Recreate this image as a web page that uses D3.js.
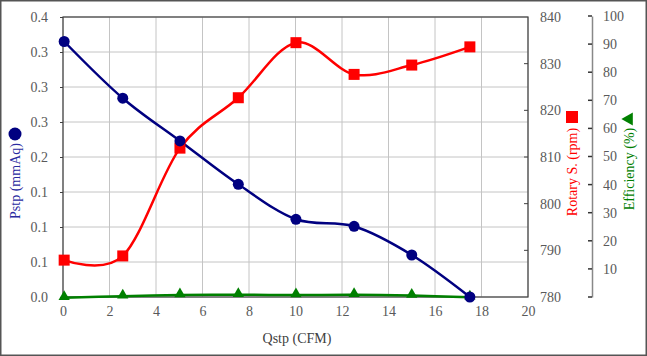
<!DOCTYPE html>
<html><head><meta charset="utf-8">
<script src="https://cdn.jsdelivr.net/npm/d3@7"></script>
<style>body{margin:0;background:#fff}svg{display:block}text{font-family:"Liberation Serif","Times New Roman",serif}</style>
</head><body><svg id="c" width="647" height="356"></svg>
<script>
const qstp = [0.05, 2.57, 5.03, 7.54, 10.02, 12.52, 15.0, 17.5];
const pstp = [0.365, 0.284, 0.223, 0.161, 0.111, 0.101, 0.060, 0.0];
const rotary = [787.9, 788.8, 811.9, 822.7, 834.5, 827.7, 829.7, 833.6];
const efficiency = [-0.3, 0.3, 0.7, 0.8, 0.7, 0.8, 0.5, -0.1];
const xTicks = [0, 2, 4, 6, 8, 10, 12, 14, 16, 18, 20];
const pTicks = [0, 0.05, 0.1, 0.15, 0.2, 0.25, 0.3, 0.35, 0.4];
const rTicks = [780, 790, 800, 810, 820, 830, 840];
const eTicks = [0, 10, 20, 30, 40, 50, 60, 70, 80, 90, 100];

const svg = d3.select("#c");
const L = 63, R = 528, T = 17, B = 297;
const x = d3.scaleLinear().domain([0, 20]).range([L, R]);
const yP = d3.scaleLinear().domain([0, 0.4]).range([B, T]);
const yR = d3.scaleLinear().domain([780, 840]).range([B, T]);
const yE = d3.scaleLinear().domain([0, 100]).range([B, 16]);
const tickCol = "#595959";

svg.append("rect").attr("x", 0.75).attr("y", 0.75).attr("width", 645.5).attr("height", 354.5)
  .attr("fill", "#fff").attr("stroke", "#555").attr("stroke-width", 1.5);

// gridlines
const g = svg.append("g");
g.selectAll(".vx").data(xTicks).join("line")
  .attr("x1", d => x(d)).attr("x2", d => x(d)).attr("y1", T).attr("y2", B)
  .attr("stroke", "#c4c4c4").attr("stroke-width", 1);
g.selectAll(".hy").data(pTicks).join("line")
  .attr("x1", L).attr("x2", R).attr("y1", d => yP(d)).attr("y2", d => yP(d))
  .attr("stroke", "#c4c4c4").attr("stroke-width", 1);

// frame
svg.append("rect").attr("x", L).attr("y", T).attr("width", R - L).attr("height", B - T)
  .attr("fill", "none").attr("stroke", "#404040").attr("stroke-width", 1.2);

// left axis
const axL = svg.append("g").attr("transform", `translate(${L},0)`)
  .call(d3.axisLeft(yP).tickValues(pTicks).tickFormat(d3.format(".1f")).tickSize(3).tickPadding(12));
axL.select(".domain").remove();
axL.selectAll("line").attr("stroke", "#404040");
axL.selectAll("text").attr("font-size", 14).attr("fill", tickCol).attr("font-family", "Liberation Serif");

// bottom axis
const axB = svg.append("g").attr("transform", `translate(0,${B})`)
  .call(d3.axisBottom(x).tickValues(xTicks).tickFormat(d3.format("d")).tickSize(0).tickPadding(9));
axB.select(".domain").remove();
axB.selectAll("text").attr("font-size", 14).attr("fill", tickCol).attr("font-family", "Liberation Serif");

// rotary axis
const axR = svg.append("g").attr("transform", `translate(${R},0)`)
  .call(d3.axisRight(yR).tickValues(rTicks).tickSize(0).tickPadding(12));
axR.select(".domain").remove();
axR.selectAll("text").attr("font-size", 14).attr("fill", tickCol).attr("font-family", "Liberation Serif");
svg.append("g").selectAll("line").data(rTicks.slice(1, -1)).join("line")
  .attr("x1", R - 4).attr("x2", R).attr("y1", d => yR(d)).attr("y2", d => yR(d))
  .attr("stroke", "#404040");

// efficiency axis
const EX = 592;
const axE = svg.append("g").attr("transform", `translate(${EX},0)`)
  .call(d3.axisRight(yE).tickValues(eTicks).tickFormat(d => d === 0 ? "" : d).tickSize(0).tickPadding(11));
axE.select(".domain").attr("stroke", "#888").attr("stroke-width", 1.5);
axE.selectAll("text").attr("font-size", 14).attr("fill", tickCol).attr("font-family", "Liberation Serif");
svg.append("g").selectAll("line").data(eTicks).join("line")
  .attr("x1", EX - 4).attr("x2", EX).attr("y1", d => yE(d)).attr("y2", d => yE(d))
  .attr("stroke", "#333").attr("stroke-width", 1.5);

const curve = d3.curveCardinal.tension(0);
// efficiency series
svg.append("path").datum(qstp.map((q, i) => [q, efficiency[i]]))
  .attr("d", d3.line().x(d => x(d[0])).y(d => yE(d[1])).curve(curve))
  .attr("fill", "none").attr("stroke", "#008000").attr("stroke-width", 2.5);
// rotary series
svg.append("path").datum(qstp.map((q, i) => [q, rotary[i]]))
  .attr("d", d3.line().x(d => x(d[0])).y(d => yR(d[1])).curve(curve))
  .attr("fill", "none").attr("stroke", "#ff0000").attr("stroke-width", 2.5);
// pstp series
svg.append("path").datum(qstp.map((q, i) => [q, pstp[i]]))
  .attr("d", d3.line().x(d => x(d[0])).y(d => yP(d[1])).curve(curve))
  .attr("fill", "none").attr("stroke", "#000080").attr("stroke-width", 2.5);

svg.append("g").selectAll("path").data(qstp.map((q, i) => [q, efficiency[i]])).join("path")
  .attr("d", d3.symbol(d3.symbolTriangle, 55))
  .attr("transform", d => `translate(${x(d[0])},${yE(d[1]) - 1})`).attr("fill", "#008000");
svg.append("g").selectAll("rect").data(qstp.map((q, i) => [q, rotary[i]])).join("rect")
  .attr("x", d => x(d[0]) - 5.5).attr("y", d => yR(d[1]) - 5.5).attr("width", 11).attr("height", 11)
  .attr("fill", "#ff0000");
svg.append("g").selectAll("circle").data(qstp.map((q, i) => [q, pstp[i]])).join("circle")
  .attr("cx", d => x(d[0])).attr("cy", d => yP(d[1])).attr("r", 5.5).attr("fill", "#000080");

// titles
svg.append("text").attr("x", 297).attr("y", 343).attr("text-anchor", "middle")
  .attr("font-size", 14).attr("fill", "#404040").text("Qstp (CFM)");

svg.append("text").attr("transform", "translate(20,181) rotate(-90)").attr("text-anchor", "middle")
  .attr("font-size", 14).attr("fill", "#2a2aa0").text("Pstp (mmAq)");
svg.append("circle").attr("cx", 15).attr("cy", 134).attr("r", 6.5).attr("fill", "#000080");

svg.append("text").attr("transform", "translate(577,172) rotate(-90)").attr("text-anchor", "middle")
  .attr("font-size", 14).attr("fill", "#ff0000").text("Rotary S. (rpm)");
svg.append("rect").attr("x", 566).attr("y", 111).attr("width", 12).attr("height", 12).attr("fill", "#ff0000");

svg.append("text").attr("transform", "translate(634,169) rotate(-90)").attr("text-anchor", "middle")
  .attr("font-size", 14).attr("fill", "#008000").text("Efficiency (%)");
svg.append("path").attr("d", d3.symbol(d3.symbolTriangle, 75)).attr("transform", "translate(629,119) rotate(-90)")
  .attr("fill", "#008000");
</script></body></html>
